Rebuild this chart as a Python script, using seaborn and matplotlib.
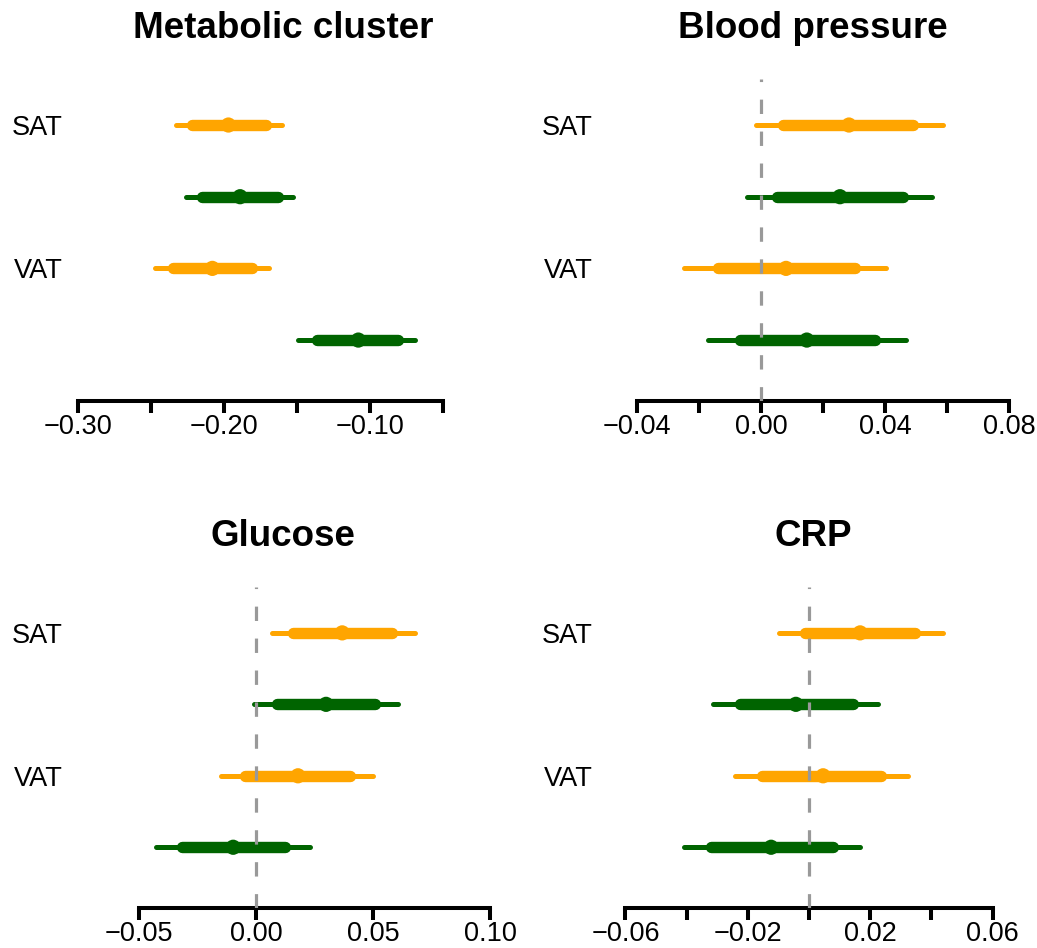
import numpy as np
import pandas as pd
import matplotlib
matplotlib.use("Agg")
import matplotlib.pyplot as plt
import seaborn as sn

# --- values (rows top to bottom) ---
panels = ["Metabolic cluster", "Blood pressure", "Glucose", "CRP"]
rowLabels = ["SAT", "SAT", "VAT", "VAT"]
series = ["a", "b", "a", "b"]

estMetabolic = [-0.197, -0.189, -0.208, -0.108]
lo95Metabolic = [-0.233, -0.226, -0.247, -0.149]
hi95Metabolic = [-0.160, -0.153, -0.169, -0.069]
loInMetabolic = [-0.222, -0.215, -0.235, -0.136]
hiInMetabolic = [-0.171, -0.163, -0.181, -0.081]

estBP = [0.0284, 0.0255, 0.0081, 0.0148]
lo95BP = [-0.0016, -0.0045, -0.0248, -0.0171]
hi95BP = [0.0587, 0.0552, 0.0403, 0.0468]
loInBP = [0.0071, 0.0052, -0.0139, -0.0068]
hiInBP = [0.0490, 0.0458, 0.0303, 0.0368]

estGlucose = [0.0368, 0.0299, 0.0179, -0.0098]
lo95Glucose = [0.0068, -0.0009, -0.0150, -0.0427]
hi95Glucose = [0.0679, 0.0607, 0.0500, 0.0231]
loInGlucose = [0.0158, 0.0090, -0.0047, -0.0316]
hiInGlucose = [0.0581, 0.0509, 0.0402, 0.0124]

estCRP = [0.0167, -0.0043, 0.0046, -0.0124]
lo95CRP = [-0.0098, -0.0314, -0.0242, -0.0409]
hi95CRP = [0.0438, 0.0226, 0.0324, 0.0167]
loInCRP = [-0.0013, -0.0226, -0.0154, -0.0320]
hiInCRP = [0.0347, 0.0144, 0.0235, 0.0078]

xTicks = [
    [-0.30, -0.25, -0.20, -0.15, -0.10, -0.05],
    [-0.04, -0.02, 0.00, 0.02, 0.04, 0.06, 0.08],
    [-0.05, 0.00, 0.05, 0.10],
    [-0.06, -0.04, -0.02, 0.00, 0.02, 0.04, 0.06],
]
xTickLabels = [
    ["\u22120.30", "", "\u22120.20", "", "\u22120.10", ""],
    ["\u22120.04", "", "0.00", "", "0.04", "", "0.08"],
    ["\u22120.05", "0.00", "0.05", "0.10"],
    ["\u22120.06", "", "\u22120.02", "", "0.02", "", "0.06"],
]
xLimits = [(-0.3021, -0.0171), (-0.0503, 0.0839), (-0.0774, 0.1004), (-0.0667, 0.0693)]

palette = {"a": "#FFA500", "b": "#006400"}

frames = []
for name, est, lo95, hi95, loIn, hiIn in [
    (panels[0], estMetabolic, lo95Metabolic, hi95Metabolic, loInMetabolic, hiInMetabolic),
    (panels[1], estBP, lo95BP, hi95BP, loInBP, hiInBP),
    (panels[2], estGlucose, lo95Glucose, hi95Glucose, loInGlucose, hiInGlucose),
    (panels[3], estCRP, lo95CRP, hi95CRP, loInCRP, hiInCRP),
]:
    frames.append(pd.DataFrame({
        "panel": name, "row": np.arange(1, 5), "label": rowLabels, "series": series,
        "est": est, "lo95": lo95, "hi95": hi95, "loIn": loIn, "hiIn": hiIn,
    }))
df = pd.concat(frames, ignore_index=True)

sn.set_style("white")
plt.rcParams["font.family"] = ["Liberation Sans", "DejaVu Sans"]
plt.rcParams["text.color"] = "black"
plt.rcParams["xtick.color"] = "black"
plt.rcParams["ytick.color"] = "black"
plt.rcParams["axes.labelcolor"] = "black"

fig = plt.figure(figsize=(10.37, 9.48), dpi=100)
W, H = 1037, 948
# axes boxes in pixels: left, top, right, bottom
boxes = [(75, 79, 491, 401), (605, 79, 1021, 401), (75, 587, 491, 908), (605, 587, 1021, 908)]

for i, name in enumerate(panels):
    l, t, r, b = boxes[i]
    ax = fig.add_axes([l / W, (H - b) / H, (r - l) / W, (b - t) / H])
    sub = df[df.panel == name]

    for _, rw in sub.iterrows():
        c = palette[rw.series]
        ax.plot([rw.lo95, rw.hi95], [rw.row, rw.row], color=c, lw=3.6,
                solid_capstyle="round", zorder=2)
        ax.plot([rw.loIn, rw.hiIn], [rw.row, rw.row], color=c, lw=8.2,
                solid_capstyle="round", zorder=3)
    sn.scatterplot(data=sub, x="est", y="row", hue="series", palette=palette, s=120,
                   edgecolor="none", legend=False, ax=ax, zorder=4)

    if xLimits[i][0] < 0 < xLimits[i][1]:
        ax.axvline(0, color="#999999", lw=2.3, ls=(0, (4.5, 5.5)), zorder=6)

    ax.set_xlim(*xLimits[i])
    ax.set_ylim(4.85, 0.358)
    ax.set_xticks(xTicks[i])
    ax.set_xticklabels(xTickLabels[i])
    ax.set_yticks([1, 3])
    ax.set_yticklabels(["SAT", "VAT"])
    ax.set_xlabel("")
    ax.set_ylabel("")
    ax.tick_params(axis="y", left=False, length=0, pad=9, labelsize=19.5, labelcolor="black")
    ax.tick_params(axis="x", bottom=True, direction="out", length=8.5, width=2.9, pad=1,
                   labelsize=19.5, color="black", labelcolor="black")
    for side in ["left", "right", "top"]:
        ax.spines[side].set_visible(False)
    ax.spines["bottom"].set_linewidth(2.9)
    ax.spines["bottom"].set_color("black")
    ax.spines["bottom"].set_bounds(xTicks[i][0], xTicks[i][-1])
    ax.set_title(name, fontsize=26.5, fontweight="bold", pad=29.5, color="black")
    ax.set_facecolor("white")

plt.savefig("out.png", dpi=100, facecolor="white")
plt.close()
